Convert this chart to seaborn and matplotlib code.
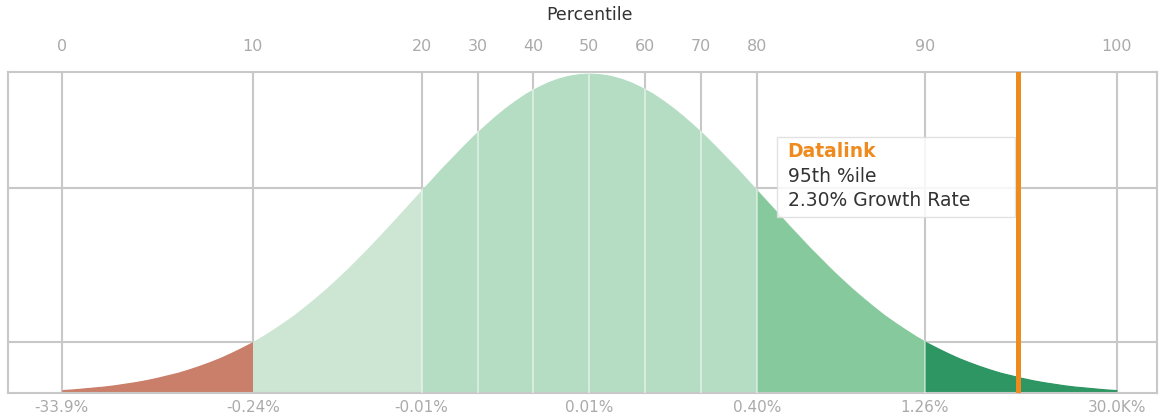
# %%
# import necessary libraries
import matplotlib
matplotlib.use("Agg")
import pandas as pd
import seaborn as sns
import matplotlib.pyplot as plt
from matplotlib.patches import Rectangle, Polygon

# %%
# data
percentiles = [0, 10, 20, 30, 40, 50, 60, 70, 80, 90, 100]
# where each percentile sits along the horizontal axis (0..100 scale)
pct_pos = [0.0, 18.1, 34.1, 39.4, 44.7, 50.0, 55.3, 60.6, 65.9, 81.8, 100.0]

value_pcts = [0, 10, 20, 50, 80, 90, 100]
value_labels = ["-33.9%", "-0.24%", "-0.01%", "0.01%", "0.40%", "1.26%", "30.0K%"]

curve_pos = list(range(0, 101))
curve_height = [0.011, 0.013, 0.016, 0.019, 0.022, 0.026, 0.031, 0.036, 0.042, 0.049,
                0.057, 0.065, 0.075, 0.086, 0.098, 0.111, 0.126, 0.142, 0.159, 0.178,
                0.199, 0.221, 0.244, 0.270, 0.297, 0.325, 0.355, 0.386, 0.419, 0.452,
                0.487, 0.522, 0.558, 0.594, 0.630, 0.666, 0.702, 0.736, 0.770, 0.803,
                0.833, 0.862, 0.889, 0.913, 0.935, 0.953, 0.969, 0.981, 0.990, 0.995,
                0.997,
                0.995, 0.990, 0.981, 0.969, 0.953, 0.935, 0.913, 0.889, 0.862, 0.833,
                0.803, 0.770, 0.736, 0.702, 0.666, 0.630, 0.594, 0.558, 0.522, 0.487,
                0.452, 0.419, 0.386, 0.355, 0.325, 0.297, 0.270, 0.244, 0.221, 0.199,
                0.178, 0.159, 0.142, 0.126, 0.111, 0.098, 0.086, 0.075, 0.065, 0.057,
                0.049, 0.042, 0.036, 0.031, 0.026, 0.022, 0.019, 0.016, 0.013, 0.011]

band_edges = [0, 10, 20, 80, 90, 100]
band_colors = ["#c97f6a", "#cce6d3", "#b5ddc3", "#86c99c", "#2e9662"]

hgrid = [0.159, 0.639]

marker_pos = 90.6
marker_title = "Datalink"
marker_lines = ["95th %ile", "2.30% Growth Rate"]

# %%
sns.set_style("white")
plt.rcParams["font.family"] = ["DejaVu Sans"]

df = pd.DataFrame({"pos": curve_pos, "height": curve_height})
pos_of = dict(zip(percentiles, pct_pos))
grid_c = "#c8c8c8"

fig = plt.figure(figsize=(11.66, 4.19), dpi=100)
ax = fig.add_axes([8 / 1166, 26 / 419, 1149 / 1166, 321 / 419])
ax.set_xlim(-5.1, 103.8)
ax.set_ylim(0, 1)

# grid
ax.vlines(pct_pos, 0, 1, color=grid_c, lw=1.5, zorder=1)
for y in hgrid:
    ax.axhline(y, color=grid_c, lw=1.5, zorder=1)

# coloured bands under the curve
for lo, hi, col in zip(band_edges[:-1], band_edges[1:], band_colors):
    fill = ax.fill_between(df["pos"], 0, df["height"], color=col, lw=0, zorder=2)
    clip = Rectangle((pos_of[lo], 0), pos_of[hi] - pos_of[lo], 1.1, transform=ax.transData)
    fill.set_clip_path(clip)

# light separators inside the curve
verts = list(zip(df["pos"], df["height"])) + [(100, 0), (0, 0)]
shape = Polygon(verts, closed=True, transform=ax.transData)
for p in [20, 30, 40, 50, 60, 70, 80, 90]:
    ln = ax.axvline(pos_of[p], color="white", lw=1.2, alpha=0.55, zorder=3)
    ln.set_clip_path(shape)

sns.lineplot(data=df, x="pos", y="height", color="white", lw=0.3, alpha=0.6, ax=ax, zorder=3)

# marker line + label box
ax.axvline(marker_pos, color="#ef8b1e", lw=3.6, zorder=6)
ax.add_patch(Rectangle((67.8, 0.548), 22.5, 0.25, facecolor="white", alpha=0.85,
                       edgecolor="#dddddd", lw=1, zorder=5))
ax.text(68.8, 0.751, marker_title, color="#ef8b1e", fontsize=13.5, fontweight="bold",
        va="center", zorder=7)
ax.text(68.8, 0.676, marker_lines[0], color="#333333", fontsize=13.5, va="center", zorder=7)
ax.text(68.8, 0.601, marker_lines[1], color="#333333", fontsize=13.5, va="center", zorder=7)

# axes styling
ax.set_xticks(pct_pos, labels=[str(p) for p in percentiles])
ax.tick_params(axis="x", top=True, labeltop=True, bottom=False, labelbottom=False,
               length=0, pad=13, labelsize=11.5, labelcolor="#aaaaaa")
ax.set_yticks([])
ax.set_xlabel("")
ax.set_ylabel("")
for s in ax.spines.values():
    s.set_color(grid_c)
    s.set_linewidth(1.5)

sec = ax.secondary_xaxis("bottom")
sec.set_xticks([pos_of[p] for p in value_pcts], labels=value_labels)
sec.tick_params(length=0, pad=5, labelsize=11, labelcolor="#aaaaaa")
sec.spines["bottom"].set_visible(False)

fig.text(589 / 1166, 1 - 15 / 419, "Percentile", ha="center", va="center",
         fontsize=12.5, color="#333333")

fig.savefig("out.png", dpi=100)
